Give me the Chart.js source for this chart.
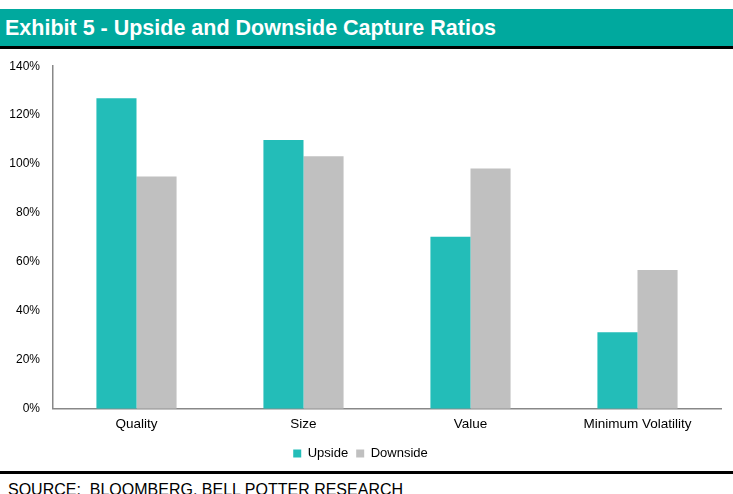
<!DOCTYPE html>
<html>
<head>
<meta charset="utf-8">
<script src="https://cdn.jsdelivr.net/npm/chart.js@4.4.0/dist/chart.umd.min.js"></script>
<style>
  body { margin: 0; background: #fff; font-family: "Liberation Sans", Arial, sans-serif; }
  .wrap { position: relative; width: 733px; height: 494px; overflow: hidden; }
  .title { position: absolute; left: 0; top: 9px; width: 733px; height: 37px; background: #00a99e;
           border-bottom: 3px solid #000; color: #fff; font-weight: bold; font-size: 21.5px;
           line-height: 38px; padding-left: 5px; box-sizing: content-box; z-index: 2; }
  .chartbox { position: absolute; left: 0; top: 46px; width: 733px; height: 424px; }
  .rule { position: absolute; left: 0; top: 471px; width: 733px; height: 3px; background: #000; }
  .source { position: absolute; left: 8px; top: 481px; font-size: 16px; color: #000; white-space: nowrap; }
</style>
</head>
<body>
<div class="wrap">
  <div class="title">Exhibit 5 - Upside and Downside Capture Ratios</div>
  <div class="chartbox"><canvas id="captureChart"></canvas></div>
  <div class="rule"></div>
  <div class="source">SOURCE:&nbsp; BLOOMBERG, BELL POTTER RESEARCH</div>
</div>
<script>
// dữ liệu
const categories = ['Quality', 'Size', 'Value', 'Minimum Volatility'];
const upside = [126.9, 109.8, 70.3, 31.3];
const downside = [94.9, 103.2, 98.2, 56.7];
const yTicks = [0, 20, 40, 60, 80, 100, 120, 140];

const ctx = document.getElementById('captureChart').getContext('2d');
new Chart(ctx, {
    type: 'bar',
    data: {
        labels: categories,
        datasets: [
            { label: 'Upside', data: upside, backgroundColor: '#23bdb8' },
            { label: 'Downside', data: downside, backgroundColor: '#c0c0c0' }
        ]
    },
    options: {
        responsive: true,
        maintainAspectRatio: false,
        animation: false,
        layout: { padding: { top: 8, right: 12, left: 0, bottom: 0 } },
        datasets: { bar: { barPercentage: 1, categoryPercentage: 0.48 } },
        plugins: {
            legend: {
                position: 'bottom',
                labels: {
                    boxWidth: 8, boxHeight: 8, padding: 8,
                    color: '#000', font: { family: 'Liberation Sans', size: 13 }
                }
            },
            tooltip: { enabled: false }
        },
        scales: {
            x: {
                grid: { display: false, drawTicks: false },
                border: { color: '#888', width: 1.5 },
                ticks: { color: '#000', padding: 7, font: { family: 'Liberation Sans', size: 13.5 } }
            },
            y: {
                min: 0, max: 140,
                afterBuildTicks: axis => { axis.ticks = yTicks.map(v => ({ value: v })); },
                afterFit: axis => { axis.width = 53; },
                grid: { display: false, drawTicks: false },
                border: { color: '#888', width: 1.5 },
                ticks: {
                    color: '#000', padding: 13,
                    font: { family: 'Liberation Sans', size: 12 },
                    callback: v => v + '%'
                }
            }
        }
    }
});
</script>
</body>
</html>
